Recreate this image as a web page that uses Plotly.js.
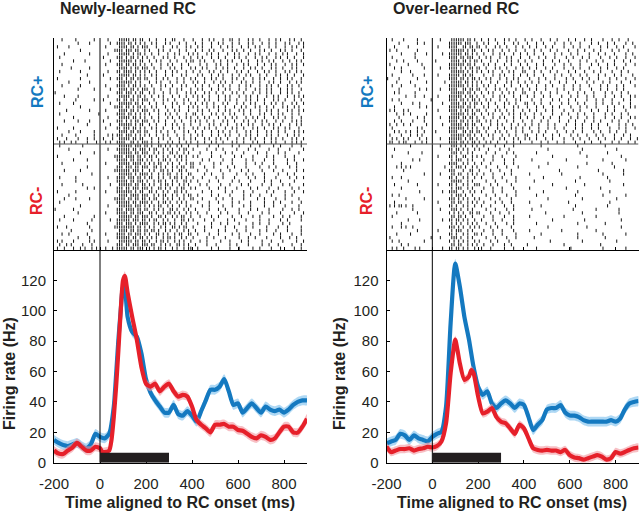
<!DOCTYPE html>
<html><head><meta charset="utf-8">
<script src="https://cdn.plot.ly/plotly-3.0.1.min.js"></script>
<style>html,body{margin:0;padding:0;background:#fff}#chart{width:640px;height:511px}</style>
</head><body><div id="chart"></div>
<script>
// ---------------- DATA ----------------
const panelTitles = ["Newly-learned RC", "Over-learned RC"];
const condLabels = ["RC+", "RC-"];
const xTicks = [-200, 0, 200, 400, 600, 800];
const yTicks = [0, 20, 40, 60, 80, 100, 120];
const stimBar = [0, 300];      // ms, RC presentation
const stimBarHeight = 6.5;     // Hz

// PSTH, newly-learned, RC+ (blue)
const tNewPlus = [-200,-180,-160,-140,-120,-100,-80,-60,-40,-20,0,20,40,60,70,80,90,100,110,120,140,160,180,200,220,240,260,280,300,320,340,360,380,400,420,440,460,480,500,520,540,560,580,600,620,640,660,680,700,720,740,760,780,800,820,840,860,880,900];
const rNewPlus = [15,13,11.6,11,12,13,11,9.5,12,19,17,16,19,37,58,81,100,116,112,96,86,83,72,55,46,41,37,33,33,38,32,31,34,31,27,34,41,48,48,50,55,47,38,39,33,36,39,36,33,37,35,34,35,33,35,38,40,41,41];
// PSTH, newly-learned, RC- (red)
const tNewMinus = [-200,-180,-160,-140,-120,-100,-80,-60,-40,-20,0,10,20,40,50,60,70,80,90,100,108,120,140,160,180,200,220,240,260,280,300,320,340,360,380,400,420,440,460,480,500,520,540,560,580,600,620,640,660,680,700,720,740,760,780,800,820,840,860,880,900];
const rNewMinus = [8,6,5.7,8,10,13,10.5,8,8,10.5,9.5,7,7,8,15,30,50,74,100,120,123,112,96,81,63,52,50,52,47,50,52,47,43.5,44.6,43.5,37,28,25,22.6,20,25,25,25.5,23.7,23.7,21.5,21,19,17,16,18,17,15,16,20,23.7,23.7,20,19.8,23.7,29];
// PSTH, over-learned, RC+ (blue)
const tOverPlus = [-200,-180,-160,-140,-120,-100,-80,-60,-40,-20,0,20,40,60,80,100,120,140,160,180,200,220,240,260,280,300,320,340,360,380,400,420,440,460,480,500,520,540,560,580,600,620,640,660,680,700,720,740,760,780,800,820,840,860,880,900];
const rOverPlus = [12.7,14,15,19,18,15,18,16,15,14,17,19,20.4,37,92,131,116,96,81,63,50,44.6,47,39,36,39,41,39,36,39,38,30,21.5,25,28,35,36,36,38,33,31,31,30,28,27,27,27,27,27,28,27,29,35,39,40,40.6];
// PSTH, over-learned, RC- (red)
const tOverMinus = [-200,-180,-160,-140,-120,-100,-80,-60,-40,-20,0,20,40,60,80,100,110,120,140,160,170,180,200,220,240,260,280,300,320,340,360,380,400,420,440,460,480,500,520,540,560,580,600,620,640,660,680,700,720,740,760,780,800,820,840,860,880,900];
const rOverMinus = [10.5,7,8,9,9,9.5,8,9,9.5,10.5,10,11,14,26,59,81,74,65.5,54.5,56.7,61,59,43.5,32.5,33.6,36,30,27,26,22.6,19,25,22.6,16,9.5,8.4,8,8.4,8,8,7,8.4,5,3.5,3,2,3,4,5,4,2,3,7,6,7,8.4,9.5,10];
// SEM (Hz) of each PSTH
const semNewPlus = 3.2, semNewMinus = 3, semOverPlus = 3.2, semOverMinus = 2.8;

// Spike rasters: one string per trial, 10-ms bins from -200 ms; '|' = spike (spaces ignored)
const binStart = -200, binWidth = 10;
const rasterNewPlus = [
"...|.....|.......|.. ...|... .|||| |.||.||. .|..|...|..||...|... |...|..|.|...|..||..|...|.|..|...|..|.|...|.|..|..",
"..........|....|.... ....|.. ||||. ||.|.|.| ..|.|...|.|...|..|.. .|..|...|..|.|...|..|...|.|...|..|..|...|.|...|.|.",
".|....|............. ..|.... .|||| .||.|.|| |...|..|...|.|...|.| ..|.|...|...|..|.|...|..|..|.|...|..|...|..|.|..|",
"...........|........ ......| |||.| ||.||..| .|...|.|..|...|..|... |..|..|.|...|...|.|..|..|...|.|..|...|.|..|...|..",
"....|..........|.... ...|... .|||| |.|.||.| ..|..|...|..|.|...|.| .|...|.|..|...|..|.|...|..|.|...|..|..|.|...|..|.",
"..|................. .|..... |||.| .||.|.|. |..|...|.|..|...|..|. .|.|...|..|..|...|.|..|...|..|.|...|.|..|..|...|",
"........|....|...... ....|.. .|||| ||.|.||. .|..|.|...|..|...|.| |..|.|...|..|..|.|...|..|...|.|..|.|...|..|..|.|.",
"...|................ ..|.... |||.| |.||.|.| ..|...|..|.|...|..|.. ..|..|...|.|..|...|..|.|...|..|..|.|...|..|.|..|",
".......|.......|.... ....... .|||| .|.||.|| |..|..|...|.|..|...| .|..|.|...|..|.|..|...|..|.|..|...|.|..|...|.|..",
"..|........|........ ...|... ||.|| ||.|.|.| .|..|...|..|.|...|.. |..|...|.|..|..|...|.|..|...|..|.|..|...|.|..|.|",
"..............|..... .|..... .|||| |.||.|.| ..|.|...|..|...|.|.. ..|.|...|..|.|...|..|..|.|...|..|...|.|..|..|...|",
".|.........|........ ....|.. |||.| .||.||.| |...|..|.|...|..|..| .|...|..|.|..|...|.|..|...|..|.|...|..|..|.|...|.",
"......|........|.... ....... .|||| ||.|.|.. .|..|.|...|..|..|... |.|..|...|..|.|..|...|.|..|..|...|.|..|...|..|.|",
"...|.......|........ ..|.... ||||. |.||.|.| ..|...|.|..|...|.|.. .|..|..|...|.|..|...|..|.|...|..|.|..|...|.|..|..",
"..........|......|.. ....|.. .|||| .||.|.|| |..|..|...|..|.|...| ..|.|...|..|..|.|...|..|...|.|..|.|...|..|.|...|",
"|................... ....... |||.| ||.|.||. .|.|...|..|..|...|.|. |...|.|..|..|...|.|..|...|..|..|.|...|..|.|..|..",
"....|.....|......... ...|... .|||| |.|.||.| ..|..|.|...|..|..|..| .|.|..|...|..|.|...|..|.|..|...|..|.|...|..|.|.|",
".........|.......|.. .|..... ||.|| .||.|.|| |..|...|.|..|...|.|. ..|..|.|...|..|.|..|...|.|..|..|...|.|..|...|..|",
"..|.....|........... ....|.. .|||| ||.||.|. .|..|..|...|.|..|..|. |..|.|..|...|.|...|..|..|.|...|..|.|..|...|.|..|",
"...........|........ ......| |||.| |.|.||.| ..|.|...|..|..|...|.| .|...|..|.|..|...|..|.|...|.|..|..|...|.|..|.|..",
".....|.........|.... ..|.... .|||| .||.|.|| |..|.|...|..|.|...|. ..|.|..|...|..|.|...|.|..|...|..|.|..|...|.|..|.|",
"..|................| ....... ||||. ||.|.|.| .|...|..|.|..|...|..| |..|...|.|..|..|.|...|..|...|.|..|..|.|...|..|..",
"........|........... ...|... .|||| |.||.|.| ..|..|...|.|..|..|.|. .|..|.|...|..|..|.|...|..|.|..|...|.|..|..|...|",
"....|.....|....|.... .|..... |||.| .|.||.|| |..|.|..|...|..|...|. |.|..|..|...|.|..|...|.|..|..|.|...|..|...|.|.|.",
"..............|..... ....|.. .|||| ||.|.||. .|..|...|..|.|..|..|. ..|...|.|..|..|...|.|..|.|...|..|.|..|...|..|.|",
".|......|........... ..|.... ||.|| |.||.|.| ..|.|..|...|..|.|...| .|..|.|..|...|..|.|..|...|.|..|...|.|..|.|...|..",
"......|....|.....|.. ....... .|||| .||.||.| |...|.|..|..|...|.|.. |..|...|..|.|..|..|...|.|..|...|.|..|..|...|.|.|",
"...|.....|.......|.. ...|.|. |||.| ||.|.|.| .|..|..|.|...|..|..|. .|.|...|..|..|.|...|..|.|..|...|.|..|...|..|.|..",
".|...|....|...|..|.. .|...|. .|||| |.||.||. ..|..|.|..|...|.|..|. |...|.|..|.|..|...|..|..|.|...|..|.|..|...|.|..|",
"..|.|..|.|....|...|. ..|.|.. ||||. .||.|.|| |.|..|...|.|..|..|.|. .|..|..|.|..|...|.|..|...|.|..|..|.|...|..|.|.|."
];
const rasterNewMinus = [
"..|.........|....... ....... .|||| ||.|||.| |.|..||.|.|..|.|..|. ..|....|...|.....|..|....|...|.....|..|....|...|..",
"......|............. ...|... ||||| |.||.||| .|.||..|.|.|..|.||.. |.....|...|..|.....|....|..|.....|...|....|.....|",
"...........|.....|.. ....... .|||| ||.||.|| |..|.|.|..||.|..|.|. ...|....|.....|..|....|.....|...|....|..|.....|..",
".|.................. ......| |||.| |||.||.| .||.|..|.|..|.||.|..| .|.....|...|.....|..|....|.....|..|....|...|....",
"........|.....|..... ....... ||||| .||.|||. |.|..|.||.|..|.|.|.. ....|..|.....|...|.....|..|....|...|.....|..|...|",
"...|................ ..|.... .|||| |.||||.| .|.|.||..|.|..|..|.|| ..|.....|..|....|.....|...|..|....|.....|...|....",
"..............|..... ....... |||.| ||.||.|| |..||.|.|..|.|.||..| |....|...|.....|..|....|.....|...|..|.....|..|...",
"....|......|........ ......| ||||| |.|||.|. .|.|..||.|.|..||.|.. ..|...|.....|...|....|..|.....|....|...|.....|..|",
"................|... ....... .|||| ||.|.||| |.|..|.|.||..|.|..|| .....|..|....|.....|...|..|....|.....|...|..|....",
"..|......|.......... ...|... ||||. |||.||.| .||..|.|..|.||.|.|.. |...|.....|..|....|.....|..|...|....|.....|..|..|",
".........|.......... ....... ||||| .||.|||. |..|.||.|..|.|..||.| ..|....|...|.....|..|....|.....|..|...|.....|....",
"...|........|....... ....|.. .|||| ||.||.|| .|.|..|.||.|..|.|.|. ...|..|.....|...|....|..|.....|...|....|..|.....|",
"..............|..|.. ....... |||.| |.|||.|| |.|..||.|.|..|.||..| .|.....|...|..|....|.....|..|....|...|.....|..|..",
".|.......|.......... ..|.... ||||| ||.|.||. .||.|..|.|..||.|.|.. ....|...|.....|..|....|...|.....|..|....|...|...|",
"......|............. ....... .|||| .||||.|| |..|.|.||..|.|..|.|| ..|.....|..|....|.....|..|...|....|.....|..|.....",
"....|....|.....|.... ......| ||||. ||.||.|| .|.||..|.|.|..|.|..| |...|.....|..|...|....|.....|..|....|...|.....|..",
"..|................. ....... ||||| |.||.||| |.|..|.||.|..|.|.|.. ..|....|...|.....|..|....|.....|...|..|....|...|.",
"...........|........ ...|... .|||| ||.|||.| .|.|.||..|.|..|..|.| ....|..|.....|...|....|..|.....|...|....|.....|..",
"|.......|........... ....... |||.| |||.||.| |..|.|.|..||.|..|.|. .|.....|...|..|.....|....|..|....|.....|...|..|..",
"..........|......... ..|.... ||||| .||.|||. .||.|..|.||.|.|..|.| ..|...|.....|..|....|...|.....|..|....|.....|...|",
"....|............|.. ....... .|||| ||.||.|| |.|..||.|..|.|.||..| ...|....|..|.....|...|....|..|.....|...|..|....|.",
"..|.....|.......|... ....|.. ||||| |.|||.|| .|.||..|.|..|..||.|. |....|...|.....|..|....|.....|...|....|..|.....|",
"..............|..... ....... |||.| ||.|.||| |..|.|.||.|.|..|.|.. ..|.....|...|..|....|.....|..|...|.....|..|.....",
".|...|.........|.... ......| ||||| |||.||.| .|.|..|.|..||.|.||..| ....|..|.....|...|....|..|.....|....|...|.....|..",
".......|........|... ....... .|||| .||.||.| |.||.|..|.|..|..|.|. .|...|.....|..|....|...|.....|..|...|....|.....|.",
"...|..|.......|..... ..|.... ||||. ||.|||.| .|..||.|.|..|.||..|| ..|....|...|.....|..|....|...|.....|..|....|...|..",
"..........|....|.... ....... ||||| |.||.||. |.|.|..|.||.|..|.|.. |.....|..|....|.....|...|..|....|.....|...|..|...",
".|.|....|......|.|.. ...|... .|||| ||.||.|| .|..|.||.|..|.|.|..| ...|..|.....|...|....|..|.....|...|....|.....|..|",
"..|..|.|....|...|... ....... |||.| |.|||.|| |.||..|.|.|..||.|.|. .|....|...|.....|..|....|.....|..|...|.....|...|.",
".|..|...|..|.|..|.|. ..|..|. ||||| .||.|||. .|.|.||.|..|.|..|.|| ..|.....|..|....|...|.....|..|....|...|.....|..|."
];
const rasterOverPlus = [
"..|....|.....|...... ...|... .|||| ||.||.|. .|..|..|...|.|..|... |..|...|...|..|....|..|...|..|....|...|..|...|...",
".....|.......|..|... ....... ||||| |.|||..| ..|.|...|..|...|.|.. .|...|..|....|...|..|...|....|..|...|..|....|..|.",
"...|.....|.......... ..|.... ||||. .||.||.| |..|...|.|..|...|..| ..|..|...|..|....|...|..|...|....|..|...|..|....|",
".|..|........|...... ....... .|||| ||.|.||. .|..|.|...|..|..|... |...|..|...|..|....|...|..|...|..|....|..|...|...",
"......|.....|....|.. ....|.. ||||| |.||.|.| ..|...|..|.|...|..|. .|..|...|....|..|...|..|....|...|..|...|....|..|.",
"..|.........|....... ....... ||||. ||.|||.. |..|.|...|..|.|...|. ..|...|..|...|....|..|...|..|....|...|..|...|...|",
"....|..|.....|...... .|..... .|||| .||.|.|| .|...|..|...|.|..|.. |..|....|...|..|...|....|..|...|..|....|...|..|..",
".|.......|.....|.... ....... ||||| ||.||.|. ..|.|..|...|..|...|. .|...|..|....|...|..|...|....|..|...|..|....|...|",
"...|..|.........|... ...|... ||||. |.|.||.| |..|...|.|..|...|..| ..|..|...|..|....|...|..|...|....|..|...|..|.....",
"......|...|......... ....... .|||| ||.|.|.| .|..|.|...|..|.|...| |...|..|...|..|....|..|...|...|..|....|...|..|...",
"..|........|....|... ..|.... ||||| .||.||.. ..|...|..|.|...|..|. .|..|...|....|..|...|...|..|....|..|...|..|....|.",
"|....|.......|...... ....... ||||. ||.|.||. |..|.|...|..|..|.|.. ..|...|..|...|....|..|...|..|...|....|..|...|...|",
"....|.....|......|.. .....|. .|||| |.||.|.| .|...|..|...|.|..|.. |..|..|....|...|..|...|....|..|...|..|....|...|..",
"..|...|.....|....... ....... ||||| ||.|.|.| ..|.|..|...|..|...|. .|...|...|..|....|...|..|...|....|..|...|..|....|",
".....|........|..|.. ...|... ||||. .||.||.| |..|...|.|..|...|..| ..|..|...|....|..|...|..|....|...|..|...|..|.....",
"...|.|......|....... ....... .|||| ||.||.|. .|..|.|...|..|.|...| |...|..|...|..|....|...|..|...|....|..|...|..|...",
"........|...|...|... ..|.... ||||| |.|.||.| ..|...|..|.|...|..|. .|..|...|..|....|...|..|...|..|....|...|..|...|.|",
"..|..|.............| ....... ||||. ||.|.||. |..|.|...|..|...|.|.. ..|...|....|..|...|..|....|...|..|...|....|..|...",
"......|....|..|..... ....|.. .|||| .||.|.|| .|..|..|...|.|..|...| |..|..|...|....|..|...|..|....|..|...|..|....|..",
"...|..........|..|.. ....... ||||| ||.||.|. ..|.|...|..|...|.|.. .|...|..|...|..|....|...|..|...|....|..|...|..|.|",
".|.|...|.|.......... ..|.... ||||. |.||.|.| |..|...|.|..|..|...| ..|..|...|..|....|...|..|....|..|...|..|....|....",
"....|..|..|......|.. ....... .|||| ||.|.||. .|..|.|...|..|.|..|. |...|..|....|...|..|...|..|...|....|..|...|..|...",
".....|.......|..|... ...|... ||||| .||.||.| ..|...|..|.|...|..|. .|..|...|..|...|....|..|...|..|....|...|..|...|.|",
"...|..|....|....|... ....... ||||. ||.|.|.| |..|.|..|...|..|...|. ..|...|..|....|...|..|...|...|..|....|..|...|....",
".|..|..|..|......|.. ....|.. .|||| |.||.||. .|...|..|.|...|..|.. |..|..|...|..|....|...|..|...|..|...|....|..|..|.",
"..|..........|.|.... ....... ||||| ||.|.|.| ..|.|...|..|..|.|..|. .|...|...|..|...|....|..|...|..|....|...|..|...|",
"...|.|..|.|..|..|... .|..... ||||. .||.||.| |..|...|.|..|...|..|. ..|..|..|....|...|..|...|....|..|...|..|...|.....",
".|....|...|..|.|.... ....... .|||| ||.||.|. .|..|.|...|..|..|...| |...|..|...|..|....|..|...|...|..|....|...|..|..",
"..|.|..|.|....|..|.. ...|... ||||| |.|.||.| ..|...|..|.|...|.|..| .|..|...|..|....|...|..|...|...|..|...|..|...|..|",
".||..|.||...|..|.|.. ....... ||||. ||.|.||. |..|.|..|...|..|..|.. ..|...|..|...|..|....|...|..|...|....|..|...|..|."
];
const rasterOverMinus = [
"..........|......... ...|... .|||. |.|..|.| ..|....|...|...|.... .......|...............|...........|...........",
"...|................ ....... ||.|| .|.|..|. |...|....|...|...... ..........|..............|..............|......",
".........|.....|.... ....... .|||. |..|.|.. ...|...|....|..|.... .....|..................|...........|.........",
"..|................. ..|.... ||.|. .||..|.| .|....|...|.....|... ............|..............|..............|....",
"...........|..|..... ....... .|.|| |..|.|.. ..|...|....|...|.... ...|..............|...............|.........|..",
"......|............. ....... ||||. .|.|..|. .|...|.....|...|.... ..........|................|..........|.......",
"....|.|.|.|......... .....|. .|.|| |.|..|.| ...|....|...|....|.. ......|................|...............|.......",
".......|............ ....... |||.. .|..||.. |....|...|....|..... ...............|................|..........|..",
"................|... ...|... .||.| |..|.|.| ..|...|....|..|..... ..|.............|.................|........|...",
"..|...|............. ....... ||.|. .|.|..|. .|....|...|.....|... ........|...............|...........|.........",
".........|.......... ....... .|||| |..|.|.. ...|...|....|...|... ....|.................|..............|........",
"...|.........|...... ..|.... ||.|. .|.|..|| |....|..|.....|..... ............|.............|................|..",
"......|............. ....... .|.|| |..|.|.. ..|...|...|....|.... ..|...............|..............|............",
"..............|..... ....|.. ||||. .|..|.|. .|....|...|.....|... ........|..............|.............|.......",
"..|..|.............. ....... .|.|| |.|..|.. ...|...|....|...|.... ....|................|...........|.........|..",
"........|.......|... ....... |||.| .|.|..|. |....|...|....|..... ..........|..............|..............|.....",
"...|................ ..|.... .||.| |..|.|.| ..|....|..|...|...... .|................|.................|.........",
".|.|.||.|..|........ ....... ||.|. .|.|..|. .|...|.....|...|.... .......|..............|.............|.........",
"...........|........ ...|... .|||. |..|.|.. ...|...|....|..|.... ...|.................|.........|.........|....",
"....|........|...... ....... |.|.| .|..||.| |....|...|...|...... .........|...............|...............|....",
"..|................. ....... .||.| |.|..|.. ..|...|....|...|.... ..|..............|.............|..............",
".........|....|..... ....|.. ||.|| .|.|..|. .|....|...|....|.... ............|.............|...............|...",
"......|............. ....... .|.|. |..|.|.| ...|...|....|..|.... .....|.................|...........|.........",
"..|...|.|..|........ ....... |||.| .|..|.|. |....|..|.....|..... ..........|................|..............|...",
".............|...... ..|.... .|.|| |..|.|.. ..|...|...|....|.... ..|.............|..............|..............",
"....|.....|......... ....... ||.|. .|.|..|| .|....|...|.....|... .......|...............|..........|.........|.",
".|.................| ...|... .|||. |..|.|.. ...|...|....|...|... ....|..................|...........|.........",
"..|..|..........|... ....... |.|.| .|.|..|. |....|..|....|...... ...........|.............|..............|....",
"......|..|.......... ....... .||.| |..|.|.| ..|...|....|..|..... .|...............|...............|...........",
"..|.|..|....|.|..... ....|.. ||.|| .|.|..|. .|...|.....|...|.... .....|..............|.............|.........|.."
];

// ---------------- RENDER ----------------
const W = 640, H = 511;
const fx = p => p / W;
const fy = p => 1 - p / H;
const FONT = "Liberation Sans, Arial, Helvetica, sans-serif";
const TXT = "#231f20";
const BLUE = "#1479c0", RED = "#e6202a";
const BLUE_BAND = "rgba(120,190,236,0.6)", RED_BAND = "rgba(242,150,158,0.6)";

function rasterTrace(blocks, xa, ya) {
  const xs = [], ys = [];
  let offset = 0;
  blocks.forEach(rows => {
    rows.forEach((s, r) => {
      const c = s.replace(/ /g, "");
      for (let i = 0; i < c.length; i++) {
        if (c[i] === "|") {
          const t = binStart + binWidth * i + binWidth / 2;
          xs.push(t, t, null);
          ys.push(offset + r - 0.46, offset + r + 0.46, null);
        }
      }
    });
    offset += rows.length;
  });
  return {type: "scatter", mode: "lines", x: xs, y: ys, xaxis: xa, yaxis: ya,
          line: {color: "#111", width: 1}, hoverinfo: "skip", showlegend: false};
}
function band(t, r, sem, color, xa, ya) {
  const up = r.map(v => v + sem), lo = r.map(v => Math.max(0, v - sem));
  return {type: "scatter", mode: "lines", x: t.concat(t.slice().reverse()),
          y: up.concat(lo.slice().reverse()), fill: "toself", fillcolor: color,
          line: {width: 0, shape: "spline", smoothing: 0.6}, xaxis: xa, yaxis: ya,
          hoverinfo: "skip", showlegend: false};
}
function meanLine(t, r, color, xa, ya) {
  return {type: "scatter", mode: "lines", x: t, y: r, xaxis: xa, yaxis: ya,
          line: {color: color, width: 4.2, shape: "spline", smoothing: 0.6},
          showlegend: false};
}

const nRows = rasterNewPlus.length + rasterNewMinus.length;
const nRowsR = rasterOverPlus.length + rasterOverMinus.length;

const data = [
  rasterTrace([rasterNewPlus, rasterNewMinus], "x2", "y2"),
  rasterTrace([rasterOverPlus, rasterOverMinus], "x4", "y4"),
  band(tNewPlus, rNewPlus, semNewPlus, BLUE_BAND, "x", "y"),
  meanLine(tNewPlus, rNewPlus, BLUE, "x", "y"),
  band(tNewMinus, rNewMinus, semNewMinus, RED_BAND, "x", "y"),
  meanLine(tNewMinus, rNewMinus, RED, "x", "y"),
  band(tOverPlus, rOverPlus, semOverPlus, BLUE_BAND, "x3", "y3"),
  meanLine(tOverPlus, rOverPlus, BLUE, "x3", "y3"),
  band(tOverMinus, rOverMinus, semOverMinus, RED_BAND, "x3", "y3"),
  meanLine(tOverMinus, rOverMinus, RED, "x3", "y3")
];

const domL = [fx(54), fx(307)], domR = [fx(386.5), fx(638.5)];
const domP = [fy(462.7), fy(250)], domS = [fy(250), fy(38)];
const baseAx = {showgrid: false, zeroline: false, showline: true, linecolor: "#000", linewidth: 1,
  ticks: "inside", ticklen: 3, tickcolor: "#000", tickwidth: 1,
  tickfont: {family: FONT, size: 15, color: TXT}};
const xP = (dom, anchor) => Object.assign({}, baseAx, {domain: dom, anchor: anchor, range: [-200, 900],
  tickvals: xTicks, ticktext: xTicks.map(String), ticklabelstandoff: 7});
const yP = (dom, anchor) => Object.assign({}, baseAx, {domain: dom, anchor: anchor, range: [0, 140],
  tickvals: yTicks, ticktext: yTicks.map(String), ticklabelstandoff: 4});
const xS = (dom, anchor) => Object.assign({}, baseAx, {domain: dom, anchor: anchor, range: [-200, 900],
  tickvals: xTicks, showticklabels: false});
const yS = (dom, anchor, n) => Object.assign({}, baseAx, {domain: dom, anchor: anchor, range: [n - 0.5, -0.5],
  ticks: "", showticklabels: false});

function ann(text, xp, yp, size, color, angle) {
  return {text: text, x: fx(xp), y: fy(yp), xref: "paper", yref: "paper", showarrow: false,
          xanchor: "center", yanchor: "middle", textangle: angle || 0,
          font: {family: FONT, size: size, color: color}};
}

const layout = {
  width: W, height: H, autosize: false, margin: {l: 0, r: 0, t: 0, b: 0},
  paper_bgcolor: "#fff", plot_bgcolor: "rgba(0,0,0,0)", showlegend: false,
  xaxis: xP(domL, "y"), yaxis: yP(domP, "x"),
  xaxis2: xS(domL, "y2"), yaxis2: yS(domS, "x2", nRows),
  xaxis3: xP(domR, "y3"), yaxis3: yP(domP, "x3"),
  xaxis4: xS(domR, "y4"), yaxis4: yS(domS, "x4", nRowsR),
  shapes: [
    {type: "line", xref: "x", yref: "paper", x0: 0, x1: 0, y0: fy(462.7), y1: fy(38), line: {color: "#000", width: 1}},
    {type: "line", xref: "x3", yref: "paper", x0: 0, x1: 0, y0: fy(462.7), y1: fy(38), line: {color: "#000", width: 1}},
    {type: "line", xref: "x2", yref: "y2", x0: -200, x1: 900, y0: rasterNewPlus.length - 0.5, y1: rasterNewPlus.length - 0.5, line: {color: "#555", width: 1.2}},
    {type: "line", xref: "x4", yref: "y4", x0: -200, x1: 900, y0: rasterOverPlus.length - 0.5, y1: rasterOverPlus.length - 0.5, line: {color: "#555", width: 1.2}},
    {type: "rect", xref: "x", yref: "y", x0: stimBar[0], x1: stimBar[1], y0: 0, y1: stimBarHeight, fillcolor: "#231f20", line: {width: 0}, layer: "above"},
    {type: "rect", xref: "x3", yref: "y3", x0: stimBar[0], x1: stimBar[1], y0: 0, y1: stimBarHeight, fillcolor: "#231f20", line: {width: 0}, layer: "above"}
  ],
  annotations: [
    ann("<b>" + panelTitles[0] + "</b>", 128, 8, 16, TXT),
    ann("<b>" + panelTitles[1] + "</b>", 456, 8, 16, TXT),
    ann("<b>" + condLabels[0] + "</b>", 37, 92, 16, BLUE, -90),
    ann("<b>" + condLabels[1] + "</b>", 37, 201, 16, RED, -90),
    ann("<b>" + condLabels[0] + "</b>", 367, 92, 16, BLUE, -90),
    ann("<b>" + condLabels[1] + "</b>", 367, 201, 16, RED, -90),
    ann("<b>Firing rate (Hz)</b>", 9, 374, 16, TXT, -90),
    ann("<b>Firing rate (Hz)</b>", 339, 374, 16, TXT, -90),
    ann("<b>Time aligned to RC onset (ms)</b>", 180, 502, 16, TXT),
    ann("<b>Time aligned to RC onset (ms)</b>", 512, 502, 16, TXT)
  ]
};

Plotly.newPlot("chart", data, layout, {displayModeBar: false, staticPlot: true});
</script></body></html>
